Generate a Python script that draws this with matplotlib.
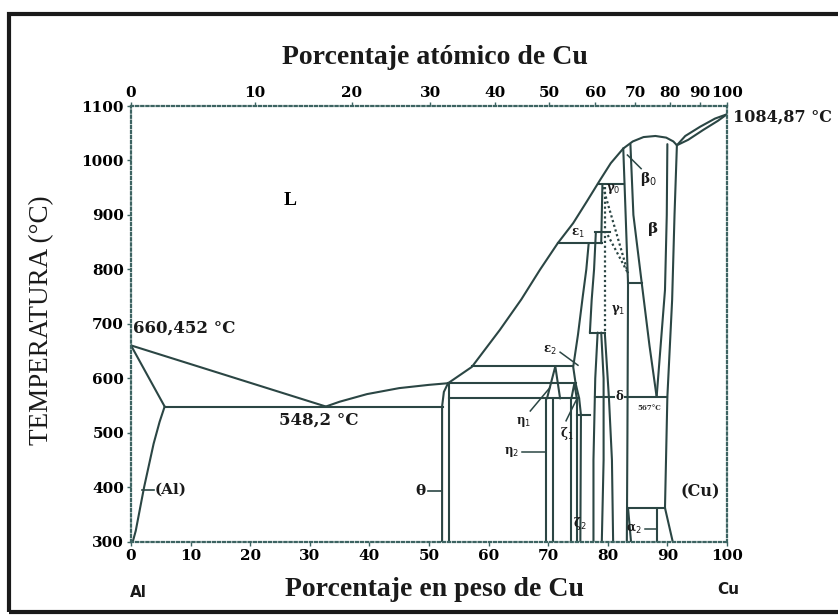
import numpy as np
import matplotlib.pyplot as plt
from matplotlib.patches import Rectangle

# Diagrama de fases Al-Cu (T en °C, composición en % en peso de Cu)
M_CU, M_AL = 63.546, 26.982

# --- límites de fase: (wt% Cu, T °C) ---
liq_al_w = [0, 32.7]
liq_al_t = [660.452, 548.2]
sol_al_w = [0, 5.65]
sol_al_t = [660.452, 548.2]
solvus_al_w = [5.65, 4.8, 3.8, 3.0, 2.2, 1.5, 0.8, 0.3]
solvus_al_t = [548.2, 520, 480, 440, 400, 360, 320, 300]

liq_mid_w = [32.7, 35, 39.6, 45, 50, 53.2]
liq_mid_t = [548.2, 557, 571, 582, 588, 591]
liq_high_w = [53.2, 57.2, 61.9, 65.5, 68.6, 71.6, 74.2, 76.5, 78.7, 80.5, 82.6]
liq_high_t = [591, 621, 689, 745, 799, 848, 885, 925, 964, 995, 1022]
beta_dome_w = [82.6, 84.2, 86, 88, 89.8, 91, 91.6]
beta_dome_t = [1022, 1035, 1043, 1045, 1042, 1035, 1028]
liq_cu_w = [91.6, 93, 95.5, 98, 100]
liq_cu_t = [1028, 1045, 1062, 1077, 1084.87]
sol_cu_w = [91.6, 93.5, 96, 98.5, 100]
sol_cu_t = [1028, 1038, 1056, 1073, 1084.87]

theta_l_w = [52.2, 52.2, 52.5, 53.2]
theta_l_t = [300, 548.2, 575, 591]
theta_r_w = [53.3, 53.3]
theta_r_t = [300, 591]

eta2_l_w, eta2_r_w = [69.7, 69.7], [70.8, 70.8]
eta2_t = [300, 563]
eta1_w = [69.8, 71.2, 72.0]
eta1_t = [563, 622, 563]

zeta2_l_w, zeta2_r_w = [73.9, 73.9], [74.8, 74.8]
zeta2_t = [300, 563]
zeta1_w = [73.9, 74.4, 74.8]
zeta1_t = [563, 591, 563]

eps2_l_w = [76.8, 76.4, 75.8, 75.0, 74.2, 74.6, 75.2, 75.5, 75.4]
eps2_l_t = [848, 800, 750, 680, 621, 591, 563, 533, 300]
eps2_r_w = [78.0, 77.7, 77.3, 77.0]
eps2_r_t = [868, 800, 744, 684]
eps1_r_w = [79.1, 78.9]
eps1_r_t = [956, 848]

delta_l_w = [78.3, 77.9, 77.6, 77.6]
delta_l_t = [684, 600, 450, 300]
delta_r_w = [78.9, 79.3, 79.3, 79.0]
delta_r_t = [684, 600, 450, 300]
gamma1_l_w = [79.5, 80.2, 80.7, 80.9]
gamma1_l_t = [684, 563, 450, 300]
gamma_r_w = [82.6, 83.0, 83.4, 83.3, 83.2]
gamma_r_t = [1022, 900, 775, 500, 300]

beta_l_w = [83.8, 84.3, 85.7, 87.0, 88.2]
beta_l_t = [1030, 900, 775, 660, 566]
beta_r_w = [90.0, 89.9, 89.6, 88.2]
beta_r_t = [1030, 900, 762, 566]
cu_l_w = [91.6, 91.2, 90.8, 90.0, 89.6, 90.9]
cu_l_t = [1028, 900, 744, 566, 362, 300]
alpha2_l_w = [83.4, 83.9]
alpha2_l_t = [362, 300]
alpha2_r_w = [88.2, 88.2]
alpha2_r_t = [362, 300]

# líneas de transformación punteadas (gamma0 -> gamma1)
dot_v_w, dot_v_t = [79.5, 79.5], [951, 684]
dot_a_w, dot_a_t = [79.2, 83.4], [951, 793]
dot_b_w, dot_b_t = [80.0, 83.4], [863, 793]

# isotermas: (w inicial, w final, T)
isotherms = [
    (5.65, 52.3, 548.2),
    (53.2, 74.6, 591),
    (57.2, 74.2, 622),
    (53.3, 75.2, 563),
    (74.8, 77.0, 533),
    (71.6, 79.0, 848),
    (77.9, 80.4, 868),
    (78.3, 82.8, 956),
    (77.0, 79.5, 684),
    (83.4, 85.7, 775),
    (77.9, 90.0, 566),
    (83.4, 89.6, 362),
]

curves = [
    (liq_al_w, liq_al_t), (sol_al_w, sol_al_t), (solvus_al_w, solvus_al_t),
    (liq_mid_w, liq_mid_t), (liq_high_w, liq_high_t), (beta_dome_w, beta_dome_t),
    (liq_cu_w, liq_cu_t), (sol_cu_w, sol_cu_t),
    (theta_l_w, theta_l_t), (theta_r_w, theta_r_t),
    (eta2_l_w, eta2_t), (eta2_r_w, eta2_t), (eta1_w, eta1_t),
    (zeta2_l_w, zeta2_t), (zeta2_r_w, zeta2_t), (zeta1_w, zeta1_t),
    (eps2_l_w, eps2_l_t), (eps2_r_w, eps2_r_t), (eps1_r_w, eps1_r_t),
    (delta_l_w, delta_l_t), (delta_r_w, delta_r_t), (gamma1_l_w, gamma1_l_t),
    (gamma_r_w, gamma_r_t), (beta_l_w, beta_l_t), (beta_r_w, beta_r_t),
    (cu_l_w, cu_l_t), (alpha2_l_w, alpha2_l_t), (alpha2_r_w, alpha2_r_t),
]
dotted = [(dot_v_w, dot_v_t), (dot_a_w, dot_a_t), (dot_b_w, dot_b_t)]

wt_ticks = list(range(0, 101, 10))
at_ticks = list(range(0, 101, 10))
t_ticks = list(range(300, 1101, 100))


def wt_to_at(w):
    w = np.clip(np.asarray(w, float), 0, 100)
    ncu = w / M_CU
    nal = (100 - w) / M_AL
    return 100 * ncu / (ncu + nal)


def at_to_wt(a):
    a = np.clip(np.asarray(a, float), 0, 100)
    mcu = a * M_CU
    mal = (100 - a) * M_AL
    return 100 * mcu / (mcu + mal)


LINE = '#2b4644'
SPINE = '#3d6462'
SERIF = 'DejaVu Serif'
TSERIF = 'Liberation Serif'

fig = plt.figure(figsize=(8.38, 6.15), dpi=100)
ax = fig.add_axes([0.1563, 0.1192, 0.7112, 0.7084])
ax.set_xlim(0, 100)
ax.set_ylim(300, 1100)

for w, t in curves:
    ax.plot(w, t, color=LINE, lw=1.5, solid_capstyle='round')
for w, t in dotted:
    ax.plot(w, t, color=LINE, lw=1.6, ls=(0, (1, 1.2)))
for w0, w1, t in isotherms:
    ax.plot([w0, w1], [t, t], color=LINE, lw=1.5)

for s in ax.spines.values():
    s.set_linestyle((0, (1, 1.3)))
    s.set_color(SPINE)
    s.set_linewidth(1.6)

ax.set_xticks(wt_ticks)
ax.set_yticks(t_ticks)
ax.tick_params(direction='out', length=3, width=1, color=SPINE, pad=2)
for lab in ax.get_xticklabels() + ax.get_yticklabels():
    lab.set_fontfamily(SERIF)
    lab.set_fontweight('bold')
    lab.set_fontsize(11)

sec = ax.secondary_xaxis('top', functions=(wt_to_at, at_to_wt))
sec.set_xticks(at_ticks)
sec.tick_params(direction='out', length=3, width=1, color=SPINE, pad=1)
sec.spines['top'].set_visible(False)
for lab in sec.get_xticklabels():
    lab.set_fontfamily(SERIF)
    lab.set_fontweight('bold')
    lab.set_fontsize(11)

# rótulos de temperatura y fases
bold = dict(family=SERIF, weight='bold', color='#1a1a1a')
ax.text(0.4, 676, '660,452 °C', fontsize=12, ha='left', va='bottom', **bold)
ax.text(31.5, 523, '548,2 °C', fontsize=12, ha='center', va='center', **bold)
ax.text(101, 1080, '1084,87 °C', fontsize=11.5, ha='left', va='center', clip_on=False, **bold)
ax.text(26.7, 927, 'L', fontsize=14, ha='center', va='center', family=TSERIF, weight='bold')
ax.text(4.0, 395, '(Al)', fontsize=11, ha='left', va='center', **bold)
ax.plot([1.9, 3.9], [395, 395], color=LINE, lw=1.2)
ax.text(48.6, 393, 'θ', fontsize=11, ha='center', va='center', **bold)
ax.plot([49.8, 52.2], [393, 393], color=LINE, lw=1.2)
ax.text(95.5, 391, '(Cu)', fontsize=11.5, ha='center', va='center', **bold)

small = dict(family=SERIF, weight='bold', fontsize=8.5, color='#1a1a1a')
ax.text(63.8, 465, 'η$_2$', ha='center', va='center', **small)
ax.plot([65.6, 69.7], [465, 465], color=LINE, lw=1.1)
ax.text(65.8, 520, 'η$_1$', ha='center', va='center', **small)
ax.plot([67.0, 70.3], [540, 583], color=LINE, lw=1.1)
ax.text(73.2, 498, 'ζ$_1$', ha='center', va='center', **small)
ax.plot([73.0, 74.8], [522, 562], color=LINE, lw=1.1)
ax.text(70.3, 652, 'ε$_2$', ha='center', va='center', **small)
ax.plot([72.0, 75.0], [648, 624], color=LINE, lw=1.1)
ax.text(75.3, 333, 'ζ$_2$', ha='center', va='center', **small)
ax.text(84.4, 322, 'α$_2$', ha='center', va='center', **small)
ax.plot([86.2, 88.2], [324, 324], color=LINE, lw=1.1)
ax.text(82.0, 566, 'δ', ha='center', va='center',
        bbox=dict(facecolor='white', edgecolor='none', pad=0.5), **small)
ax.text(87.0, 546, '567°C', ha='center', va='center', family=SERIF,
        weight='bold', fontsize=5, color='#333333')
ax.text(81.7, 725, 'γ$_1$', ha='center', va='center', **small)
ax.text(80.9, 948, 'γ$_0$', ha='center', va='center', **small)
ax.text(75.0, 866, 'ε$_1$', ha='center', va='center', **small)
ax.text(86.8, 966, 'β$_0$', ha='center', va='center',
        family=SERIF, weight='bold', fontsize=10, color='#1a1a1a')
ax.plot([85.6, 83.3], [985, 1010], color=LINE, lw=1.1)
ax.text(87.6, 875, 'β', ha='center', va='center',
        family=SERIF, weight='bold', fontsize=11, color='#1a1a1a')

# títulos de ejes
fig.text(0.519, 0.906, 'Porcentaje atómico de Cu', ha='center', va='center',
         family=TSERIF, weight='bold', fontsize=20, color='#1a1a1a')
fig.text(0.519, 0.041, 'Porcentaje en peso de Cu', ha='center', va='center',
         family=TSERIF, weight='bold', fontsize=20, color='#1a1a1a')
fig.text(0.05, 0.48, 'TEMPERATURA (°C)', ha='center', va='center', rotation=90,
         family=TSERIF, fontsize=19.5, color='#1a1a1a')
fig.text(0.165, 0.037, 'Al', ha='center', va='center', family='DejaVu Sans',
         weight='bold', fontsize=11, color='#1a1a1a')
fig.text(0.869, 0.041, 'Cu', ha='center', va='center', family='DejaVu Sans',
         weight='bold', fontsize=11, color='#1a1a1a')

# marco exterior
fig.patches.append(Rectangle((0.0107, 0.0049), 1.0, 0.972, transform=fig.transFigure,
                             fill=False, edgecolor='#1a1a1a', lw=3))

fig.savefig('out.png', dpi=100)
